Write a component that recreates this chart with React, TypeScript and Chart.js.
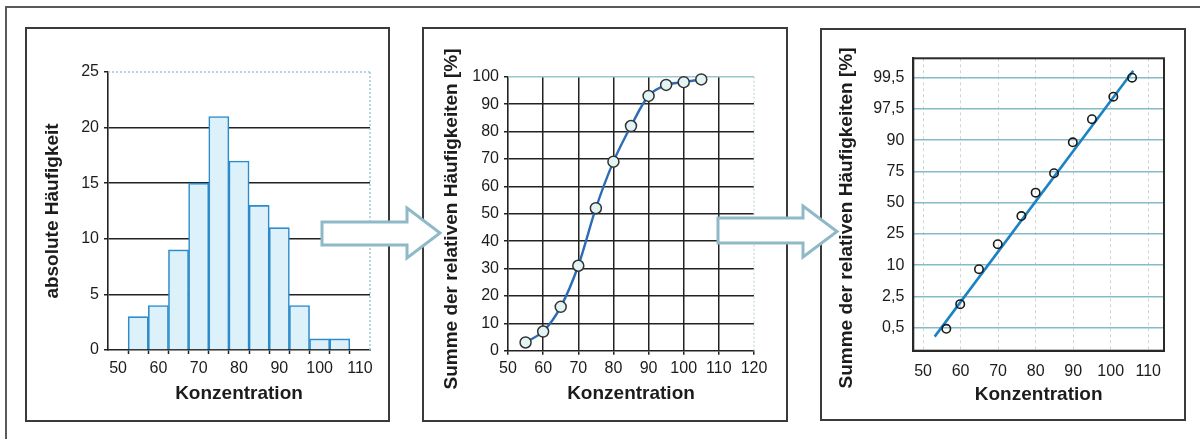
import React, { useEffect, useRef } from 'react';
import { Chart, registerables } from 'chart.js';

Chart.register(...registerables);

const FONT = "'Liberation Sans', Arial, Helvetica, sans-serif";
const TEXT = '#1c1c1c';

// ---------- Panel 1: histogram ----------
const binCenters = [55, 60, 65, 70, 75, 80, 85, 90, 95, 100, 105];
const absFrequency = [3, 4, 9, 15, 21, 17, 13, 11, 4, 1, 1];
const histXLabels = [50, 60, 70, 80, 90, 100, 110];
const histYTicks = [0, 5, 10, 15, 20, 25];
const binWidth = 5;

// ---------- Panel 2: cumulative sum ----------
const cumX = [55, 60, 65, 70, 75, 80, 85, 90, 95, 100, 105];
const cumPercent = [3, 7, 16, 31, 52, 69, 82, 93, 97, 98, 99];

// ---------- Panel 3: probability plot ----------
const probX = [56.2, 59.9, 64.9, 69.9, 76.2, 80.0, 84.9, 89.9, 95.0, 100.7, 105.7];
const probPosition = [-0.04, 0.75, 1.87, 2.67, 3.57, 4.32, 4.94, 5.93, 6.67, 7.39, 8.0];
const probTickLabels = ['0,5', '2,5', '10', '25', '50', '75', '90', '97,5', '99,5'];
const probXTicks = [50, 60, 70, 80, 90, 100, 110];
const fitX = [53.1, 106.0];
const fitPosition = [-0.29, 8.22];

// ---------- Texts ----------
const xTitle = 'Konzentration';
const yTitle1 = 'absolute Häufigkeit';
const yTitle2 = 'Summe der relativen Häufigkeiten [%]';

const tickFont = { family: FONT, size: 16 };
const titleFont = { family: FONT, size: 19, weight: 'bold' as const };

type Line = { color: string; width: number; dash?: number[] };

function overlayPlugin(opts: {
  top?: Line;
  right?: Line;
  yTitle: { text: string; x: number; y: number };
}) {
  return {
    id: 'overlay',
    beforeDatasetsDraw(chart: any) {
      const { ctx, chartArea } = chart;
      const { left, right, top, bottom } = chartArea;
      const seg = (l: Line, x1: number, y1: number, x2: number, y2: number) => {
        ctx.save();
        ctx.strokeStyle = l.color;
        ctx.lineWidth = l.width;
        ctx.setLineDash(l.dash || []);
        ctx.beginPath();
        ctx.moveTo(x1, y1);
        ctx.lineTo(x2, y2);
        ctx.stroke();
        ctx.restore();
      };
      if (opts.top) seg(opts.top, left, top, right, top);
      if (opts.right) seg(opts.right, right, top, right, bottom);
    },
    afterDraw(chart: any) {
      const { ctx } = chart;
      ctx.save();
      ctx.translate(opts.yTitle.x, opts.yTitle.y);
      ctx.rotate(-Math.PI / 2);
      ctx.font = `bold 19px ${FONT}`;
      ctx.fillStyle = TEXT;
      ctx.textAlign = 'center';
      ctx.textBaseline = 'middle';
      ctx.fillText(opts.yTitle.text, 0, 0);
      ctx.restore();
    },
  };
}

function histConfig(): any {
  const edges = binCenters.map((c) => c - binWidth / 2).concat([binCenters[binCenters.length - 1] + binWidth / 2]);
  const tickValues = [...histXLabels, ...edges].sort((a, b) => a - b);
  return {
    type: 'bar',
    data: {
      datasets: [
        {
          xAxisID: 'xBars',
          data: binCenters.map((x, i) => ({ x, y: absFrequency[i] })),
          backgroundColor: '#dcf1fa',
          borderColor: '#2b8bcb',
          borderWidth: 1.6,
          barPercentage: 1,
          categoryPercentage: 1,
          grouped: false,
        },
      ],
    },
    options: {
      animation: false,
      responsive: false,
      maintainAspectRatio: false,
      layout: { padding: { left: 0, top: 43, right: 18, bottom: 0 } },
      plugins: { legend: { display: false }, tooltip: { enabled: false } },
      scales: {
        xBars: {
          type: 'linear',
          display: false,
          min: 47.5,
          max: 112.5,
          offset: false,
          afterBuildTicks: (s: any) => {
            s.ticks = binCenters.map((v) => ({ value: v }));
          },
        },
        x: {
          type: 'linear',
          position: 'bottom',
          min: 47.5,
          max: 112.5,
          offset: false,
          afterBuildTicks: (s: any) => {
            s.ticks = tickValues.map((v) => ({ value: v }));
          },
          ticks: {
            autoSkip: false,
            maxRotation: 0,
            padding: 5,
            font: tickFont,
            color: TEXT,
            callback: (v: number) => (histXLabels.includes(v) ? String(v) : ''),
          },
          grid: {
            drawOnChartArea: false,
            offset: false,
            tickLength: 4,
            tickWidth: 1.5,
            tickColor: (c: any) => (edges.includes(c.tick?.value) ? '#222' : 'rgba(0,0,0,0)'),
          },
          border: { color: '#222', width: 1.6 },
          title: { display: true, text: xTitle, font: titleFont, color: TEXT, padding: { top: 0, bottom: 15 } },
          afterFit: (s: any) => {
            s.height = 70;
          },
        },
        y: {
          min: 0,
          max: 25,
          afterBuildTicks: (s: any) => {
            s.ticks = histYTicks.map((v) => ({ value: v }));
          },
          ticks: { padding: 5, font: tickFont, color: TEXT },
          grid: {
            color: (c: any) => (c.tick?.value === 25 || c.tick?.value === 0 ? 'rgba(0,0,0,0)' : '#222'),
            lineWidth: 1.5,
            tickColor: '#222',
            tickLength: 4,
          },
          border: { color: '#222', width: 1.6 },
          afterFit: (s: any) => {
            s.width = 81;
          },
        },
      },
    },
    plugins: [
      overlayPlugin({
        top: { color: '#9fcad8', width: 1.5, dash: [2, 2] },
        right: { color: '#9fcad8', width: 1.5, dash: [2, 2] },
        yTitle: { text: yTitle1, x: 26, y: 182 },
      }),
    ],
  };
}

function cumConfig(): any {
  return {
    type: 'line',
    data: {
      datasets: [
        {
          data: cumX.map((x, i) => ({ x, y: cumPercent[i] })),
          borderColor: '#2c6cb4',
          borderWidth: 2.4,
          tension: 0.3,
          pointRadius: 5.5,
          pointBackgroundColor: '#e2f4f3',
          pointBorderColor: '#333',
          pointBorderWidth: 1.5,
          fill: false,
          clip: false,
        },
      ],
    },
    options: {
      animation: false,
      responsive: false,
      maintainAspectRatio: false,
      layout: { padding: { left: 0, top: 47.7, right: 32, bottom: 0 } },
      plugins: { legend: { display: false }, tooltip: { enabled: false } },
      scales: {
        x: {
          type: 'linear',
          min: 50,
          max: 120,
          ticks: { stepSize: 10, autoSkip: false, maxRotation: 0, padding: 4, font: tickFont, color: TEXT },
          grid: {
            color: (c: any) => (c.tick?.value === 50 || c.tick?.value === 120 ? 'rgba(0,0,0,0)' : '#222'),
            lineWidth: 1.5,
            tickColor: '#222',
            tickLength: 4,
          },
          border: { color: '#222', width: 1.6 },
          title: { display: true, text: xTitle, font: titleFont, color: TEXT, padding: { top: 0, bottom: 15 } },
          afterFit: (s: any) => {
            s.height = 69.3;
          },
        },
        y: {
          min: 0,
          max: 100,
          ticks: { stepSize: 10, padding: 5, font: tickFont, color: TEXT },
          grid: {
            color: (c: any) => (c.tick?.value === 100 || c.tick?.value === 0 ? 'rgba(0,0,0,0)' : '#222'),
            lineWidth: 1.5,
            tickColor: '#222',
            tickLength: 4,
          },
          border: { color: '#222', width: 1.6 },
          afterFit: (s: any) => {
            s.width = 84;
          },
        },
      },
    },
    plugins: [
      overlayPlugin({
        top: { color: '#9cc6cf', width: 1.5 },
        right: { color: '#c4d6de', width: 1.2, dash: [2, 2] },
        yTitle: { text: yTitle2, x: 27.7, y: 190 },
      }),
    ],
  };
}

function probConfig(): any {
  return {
    type: 'scatter',
    data: {
      datasets: [
        {
          data: probX.map((x, i) => ({ x, y: probPosition[i] })),
          pointRadius: 4.2,
          pointBorderWidth: 1.6,
          pointBorderColor: '#1a1a1a',
          pointBackgroundColor: 'rgba(255,255,255,0)',
          showLine: false,
          clip: false,
        },
        {
          data: fitX.map((x, i) => ({ x, y: fitPosition[i] })),
          showLine: true,
          borderColor: '#1b82c3',
          borderWidth: 2.6,
          pointRadius: 0,
          clip: false,
        },
      ],
    },
    options: {
      animation: false,
      responsive: false,
      maintainAspectRatio: false,
      layout: { padding: { left: 0, top: 28.3, right: 20, bottom: 0 } },
      plugins: { legend: { display: false }, tooltip: { enabled: false } },
      scales: {
        x: {
          type: 'linear',
          min: 47.4,
          max: 114.2,
          afterBuildTicks: (s: any) => {
            s.ticks = probXTicks.map((v) => ({ value: v }));
          },
          ticks: { autoSkip: false, maxRotation: 0, padding: 11, font: tickFont, color: TEXT },
          grid: { color: '#d2d2d2', lineWidth: 1, drawTicks: false },
          border: { color: '#222', width: 2, dash: [3, 3] },
          title: { display: true, text: xTitle, font: titleFont, color: TEXT, padding: { top: 0, bottom: 12.6 } },
          afterFit: (s: any) => {
            s.height = 68.3;
          },
        },
        y: {
          min: -0.74,
          max: 8.62,
          afterBuildTicks: (s: any) => {
            s.ticks = probTickLabels.map((_, i) => ({ value: i }));
          },
          ticks: {
            padding: 9,
            font: tickFont,
            color: TEXT,
            callback: (_v: number, i: number) => probTickLabels[i],
          },
          grid: { color: '#86bac8', lineWidth: 1.4, drawTicks: false },
          border: { color: '#222', width: 2 },
          afterFit: (s: any) => {
            s.width = 91.3;
          },
        },
      },
    },
    plugins: [
      {
        id: 'probFrame',
        afterDraw(chart: any) {
          const { ctx, chartArea } = chart;
          ctx.save();
          ctx.strokeStyle = '#2a2a2a';
          ctx.lineWidth = 2;
          ctx.strokeRect(chartArea.left, chartArea.top, chartArea.right - chartArea.left, chartArea.bottom - chartArea.top);
          ctx.restore();
        },
      },
      overlayPlugin({
        yTitle: { text: yTitle2, x: 24.7, y: 188 },
      }),
    ],
  };
}

function ChartCanvas(props: { make: () => any; left: number; top: number; width: number; height: number }) {
  const ref = useRef<HTMLCanvasElement>(null);
  useEffect(() => {
    const chart = new Chart(ref.current as HTMLCanvasElement, props.make());
    return () => chart.destroy();
  }, []);
  return (
    <canvas
      ref={ref}
      width={props.width}
      height={props.height}
      style={{ position: 'absolute', left: props.left, top: props.top, width: props.width, height: props.height }}
    />
  );
}

const box = (left: number, top: number, width: number, height: number): React.CSSProperties => ({
  position: 'absolute',
  left,
  top,
  width,
  height,
  boxSizing: 'border-box',
  border: '2px solid #3a3a3a',
  background: '#fff',
});

export default function App() {
  return (
    <div style={{ position: 'absolute', left: 0, top: 0, width: 1200, height: 439, background: '#fff', overflow: 'hidden' }}>
      <div
        style={{
          position: 'absolute',
          left: 5,
          top: 6,
          width: 1300,
          height: 500,
          borderTop: '2px solid #5a5a5a',
          borderLeft: '2px solid #5a5a5a',
        }}
      />
      <div style={box(25, 27, 365, 395)} />
      <div style={box(422, 27, 366, 395)} />
      <div style={box(820, 28, 366, 393)} />
      <ChartCanvas make={histConfig} left={27} top={29} width={361} height={391} />
      <ChartCanvas make={cumConfig} left={424} top={29} width={362} height={391} />
      <ChartCanvas make={probConfig} left={822} top={30} width={362} height={389} />
      <svg width={1200} height={439} style={{ position: 'absolute', left: 0, top: 0, pointerEvents: 'none' }}>
        <polygon
          points="322,222 407,222 407,208 440,233 407,258 407,245 322,245"
          fill="#fff"
          stroke="#8fb9c6"
          strokeWidth={3}
        />
        <polygon
          points="718,218 803,218 803,206 837,231.5 803,257 803,243 718,243"
          fill="#fff"
          stroke="#8fb9c6"
          strokeWidth={3}
        />
      </svg>
    </div>
  );
}
